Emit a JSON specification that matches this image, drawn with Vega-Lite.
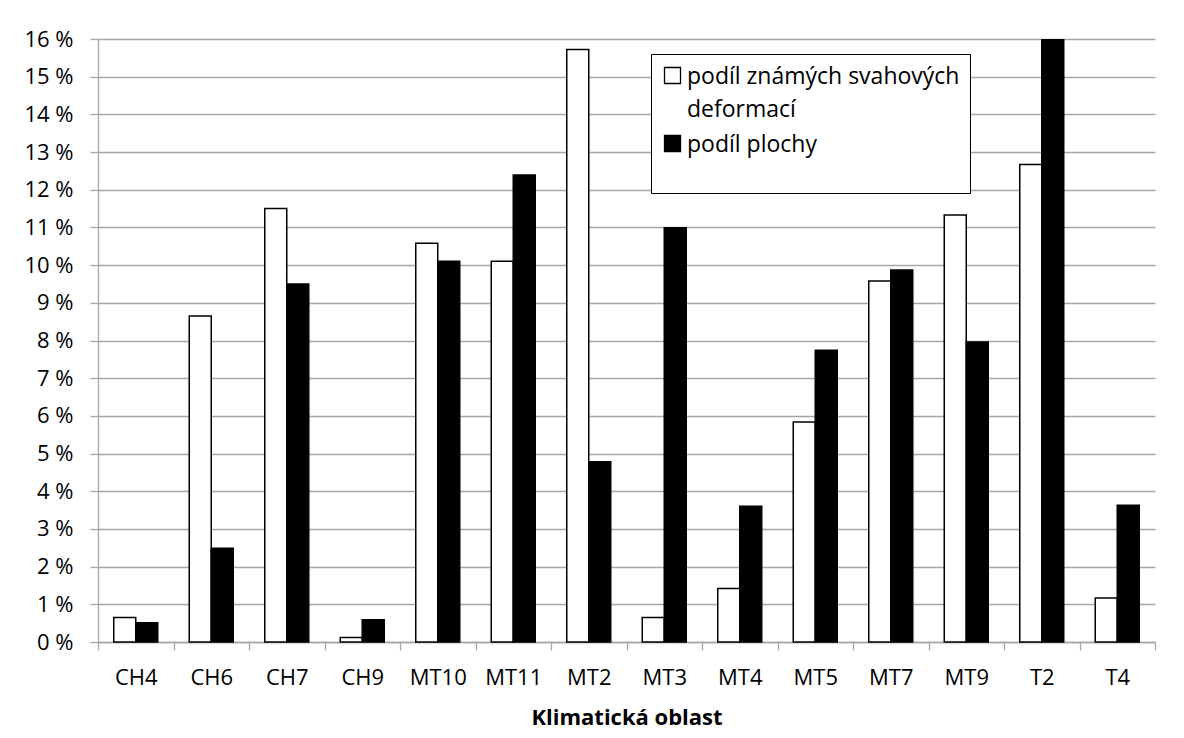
{
  "$schema": "https://vega.github.io/schema/vega-lite/v6.json",
  "width": 1057,
  "height": 603,
  "autosize": {"type": "none"},
  "padding": {"left": 98, "top": 39, "right": 29, "bottom": 96},
  "background": "white",
  "config": {
    "font": "Open Sans",
    "view": {"stroke": null},
    "axis": {
      "domainColor": "#a6a6a6",
      "domainWidth": 1.3,
      "tickColor": "#a6a6a6",
      "tickWidth": 1.3,
      "tickSize": 8,
      "gridColor": "#a6a6a6",
      "gridWidth": 1.3,
      "labelColor": "black",
      "labelFont": "Open Sans",
      "labelFontSize": 22,
      "titleColor": "black",
      "titleFont": "Open Sans"
    }
  },
  "data": {
    "values": [
      {"oblast": "CH4", "serie": "podíl známých svahových deformací", "hodnota": 0.65},
      {"oblast": "CH4", "serie": "podíl plochy", "hodnota": 0.51},
      {"oblast": "CH6", "serie": "podíl známých svahových deformací", "hodnota": 8.65},
      {"oblast": "CH6", "serie": "podíl plochy", "hodnota": 2.49},
      {"oblast": "CH7", "serie": "podíl známých svahových deformací", "hodnota": 11.5},
      {"oblast": "CH7", "serie": "podíl plochy", "hodnota": 9.5},
      {"oblast": "CH9", "serie": "podíl známých svahových deformací", "hodnota": 0.12},
      {"oblast": "CH9", "serie": "podíl plochy", "hodnota": 0.59},
      {"oblast": "MT10", "serie": "podíl známých svahových deformací", "hodnota": 10.58},
      {"oblast": "MT10", "serie": "podíl plochy", "hodnota": 10.1},
      {"oblast": "MT11", "serie": "podíl známých svahových deformací", "hodnota": 10.1},
      {"oblast": "MT11", "serie": "podíl plochy", "hodnota": 12.39},
      {"oblast": "MT2", "serie": "podíl známých svahových deformací", "hodnota": 15.72},
      {"oblast": "MT2", "serie": "podíl plochy", "hodnota": 4.78},
      {"oblast": "MT3", "serie": "podíl známých svahových deformací", "hodnota": 0.65},
      {"oblast": "MT3", "serie": "podíl plochy", "hodnota": 10.99},
      {"oblast": "MT4", "serie": "podíl známých svahových deformací", "hodnota": 1.42},
      {"oblast": "MT4", "serie": "podíl plochy", "hodnota": 3.6},
      {"oblast": "MT5", "serie": "podíl známých svahových deformací", "hodnota": 5.84},
      {"oblast": "MT5", "serie": "podíl plochy", "hodnota": 7.74},
      {"oblast": "MT7", "serie": "podíl známých svahových deformací", "hodnota": 9.58},
      {"oblast": "MT7", "serie": "podíl plochy", "hodnota": 9.87},
      {"oblast": "MT9", "serie": "podíl známých svahových deformací", "hodnota": 11.33},
      {"oblast": "MT9", "serie": "podíl plochy", "hodnota": 7.96},
      {"oblast": "T2", "serie": "podíl známých svahových deformací", "hodnota": 12.67},
      {"oblast": "T2", "serie": "podíl plochy", "hodnota": 15.98},
      {"oblast": "T4", "serie": "podíl známých svahových deformací", "hodnota": 1.17},
      {"oblast": "T4", "serie": "podíl plochy", "hodnota": 3.63}
    ]
  },
  "mark": {"type": "bar", "stroke": "black", "strokeWidth": 1.5},
  "encoding": {
    "x": {
      "field": "oblast",
      "type": "nominal",
      "sort": null,
      "scale": {"paddingInner": 0, "paddingOuter": 0},
      "axis": {
        "title": "Klimatická oblast",
        "titleFontSize": 22,
        "titleFontWeight": "bold",
        "titlePadding": 19,
        "labelAngle": 0,
        "labelPadding": 17,
        "tickBand": "extent",
        "grid": false
      }
    },
    "xOffset": {
      "field": "serie",
      "type": "nominal",
      "sort": ["podíl známých svahových deformací", "podíl plochy"],
      "scale": {"paddingInner": 0, "paddingOuter": 0.716}
    },
    "y": {
      "field": "hodnota",
      "type": "quantitative",
      "scale": {"domain": [0, 16], "nice": false},
      "axis": {
        "title": null,
        "values": [0, 1, 2, 3, 4, 5, 6, 7, 8, 9, 10, 11, 12, 13, 14, 15, 16],
        "labelExpr": "datum.value + ' %'",
        "labelPadding": 17,
        "grid": true
      }
    },
    "fill": {
      "field": "serie",
      "type": "nominal",
      "sort": ["podíl známých svahových deformací", "podíl plochy"],
      "scale": {
        "domain": ["podíl známých svahových deformací", "podíl plochy"],
        "range": ["white", "black"]
      },
      "legend": {
        "title": " ",
        "titleOrient": "bottom",
        "titleFontSize": 20,
        "titlePadding": 6,
        "orient": "none",
        "legendX": 553,
        "legendY": 15,
        "fillColor": "white",
        "strokeColor": "black",
        "padding": 10,
        "symbolType": "square",
        "symbolSize": 256,
        "symbolStrokeColor": "black",
        "symbolStrokeWidth": 1.3,
        "labelFont": "Open Sans",
        "labelFontSize": 23,
        "labelColor": "black",
        "labelOffset": 3,
        "labelLimit": 400,
        "labelBaseline": "alphabetic",
        "rowPadding": 10,
        "labelExpr": "datum.label == 'podíl známých svahových deformací' ? ['podíl známých svahových', 'deformací'] : datum.label",
        "encoding": {
          "labels": {"lineHeight": {"value": 33}, "dy": {"value": 8}}
        }
      }
    }
  }
}
